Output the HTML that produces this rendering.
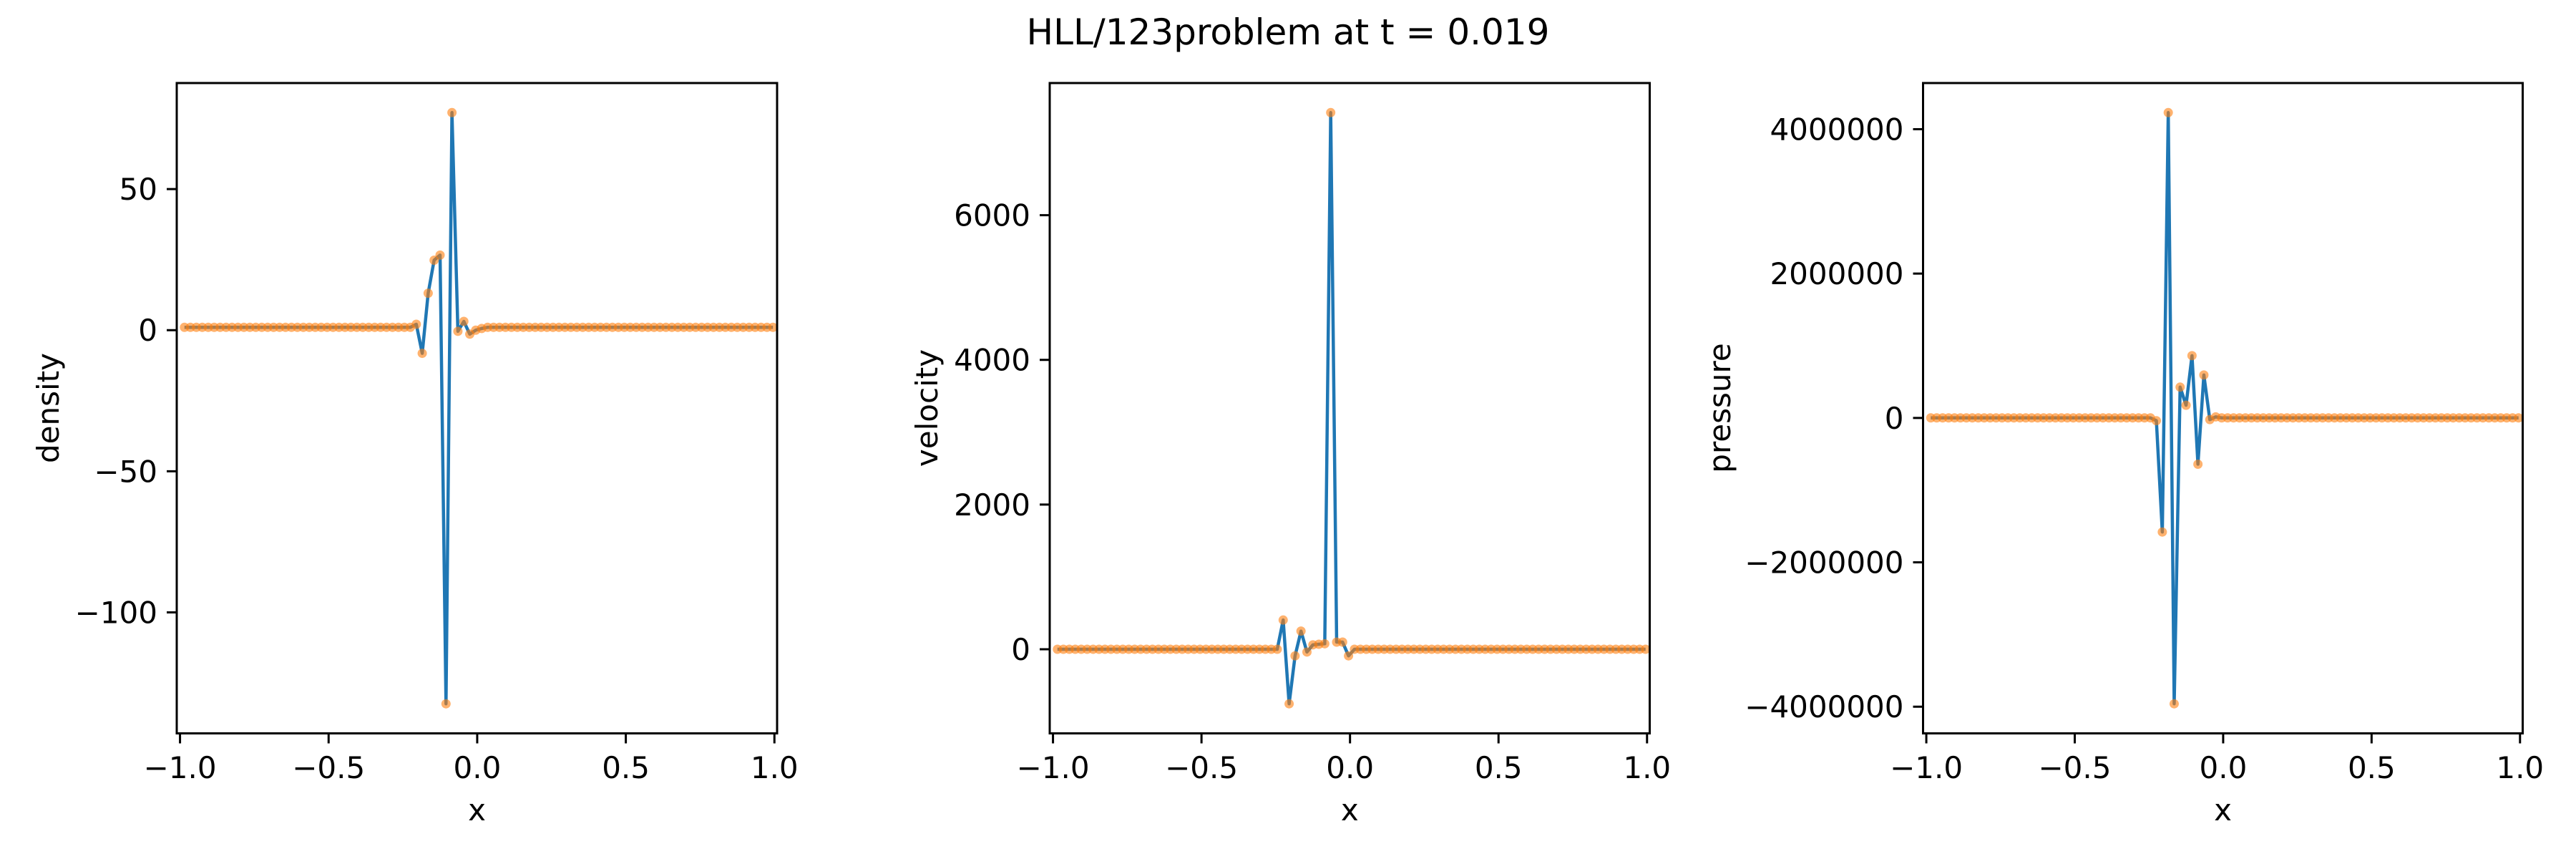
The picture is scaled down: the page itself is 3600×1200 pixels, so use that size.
<!DOCTYPE html>
<html><head><meta charset="utf-8">
<style>
html,body{margin:0;padding:0;background:#fff;}
svg{display:block;}
text{font-family:"DejaVu Sans","Liberation Sans",sans-serif;fill:#000;}
</style></head>
<body>
<svg id="fig" xmlns="http://www.w3.org/2000/svg" width="3600" height="1200" viewBox="0 0 3600 1200">
<rect width="3600" height="1200" fill="#fff"/>
<text x="1800" y="62" font-size="50" text-anchor="middle">HLL/123problem at t = 0.019</text>
</svg>
<script>
// Cell index -> x = -0.985 + 0.02*i, 100 cells
const cellCount = 100;
// sparse non-baseline values [index, value]
const densityBase = 1.0;
const densitySpikes = [[39,2.1],[40,-8.2],[41,13.1],[42,24.8],[43,26.6],[44,-132.4],[45,77.1],[46,-0.4],[47,3.1],[48,-1.4],[49,0.0],[50,0.6]];
const velocityBase = 0;
const velocitySpikes = [[38,404],[39,-754],[40,-91],[41,251],[42,-38],[43,61],[44,69],[45,76],[46,7418],[47,99],[48,99],[49,-91]];
const pressureBase = 1000;
const pressureSpikes = [[38,-38000],[39,-1580000],[40,4230000],[41,-3960000],[42,427000],[43,176000],[44,863000],[45,-641000],[46,595000],[47,-23000],[48,15000]];
const xTicks = [-1.0,-0.5,0.0,0.5,1.0];
const xTickLabels = ["\u22121.0","\u22120.5","0.0","0.5","1.0"];
const densityTicks = [-100,-50,0,50];
const densityTickLabels = ["\u2212100","\u221250","0","50"];
const velocityTicks = [0,2000,4000,6000];
const velocityTickLabels = ["0","2000","4000","6000"];
const pressureTicks = [-4000000,-2000000,0,2000000,4000000];
const pressureTickLabels = ["\u22124000000","\u22122000000","0","2000000","4000000"];

const NS = "http://www.w3.org/2000/svg";
const svg = document.getElementById('fig');
function mk(tag, attrs){const e=document.createElementNS(NS,tag);for(const k in attrs)e.setAttribute(k,attrs[k]);return e;}
function build(base, spikes){const v=[];for(let i=0;i<cellCount;i++)v.push(base);spikes.forEach(s=>{v[s[0]]=s[1];});return v;}
const FS=42;
function panel(name, left, right, values, ticks, tickLabels, ylabel, ylabelX){
  const top=116, bottom=1024.5;
  const xs=values.map((_,i)=>-0.985+0.02*i);
  const xmin=-1.011, xmax=1.009;
  const X=x=>left+(x-xmin)/(xmax-xmin)*(right-left);
  let mn=Math.min(...values), mx=Math.max(...values), r=mx-mn;
  const ymin=mn-0.05*r, ymax=mx+0.05*r;
  const Y=y=>bottom-(y-ymin)/(ymax-ymin)*(bottom-top);
  const g=mk('g',{});
  
  
  svg.appendChild(g);
  const pts=xs.map((x,i)=>X(x).toFixed(2)+','+Y(values[i]).toFixed(2)).join(' ');
  const line=mk('polyline',{points:pts,fill:'none',stroke:'#1f77b4','stroke-width':4.5,'stroke-linejoin':'round'});
  
  
  g.appendChild(line);
  xs.forEach((x,i)=>{
    const c=mk('circle',{cx:X(x).toFixed(2),cy:Y(values[i]).toFixed(2),r:6.5,fill:'#ff7f0e','fill-opacity':0.6});
    
    
    g.appendChild(c);
  });
  const fr=mk('rect',{x:left,y:top,width:right-left,height:bottom-top,fill:'none',stroke:'#000','stroke-width':3});
  
  
  g.appendChild(fr);
  xTicks.forEach((t,i)=>{
    const px=X(t);
    const tk=mk('line',{x1:px,x2:px,y1:bottom,y2:bottom+14,stroke:'#000','stroke-width':3});
    
    
    g.appendChild(tk);
    const tx=mk('text',{x:px,y:1087,'font-size':FS,'text-anchor':'middle'});
    tx.textContent=xTickLabels[i];
    
    
    g.appendChild(tx);
  });
  ticks.forEach((t,i)=>{
    const py=Y(t);
    const tk=mk('line',{x1:left-14,x2:left,y1:py,y2:py,stroke:'#000','stroke-width':3});
    
    
    g.appendChild(tk);
    const tx=mk('text',{x:left-27,y:py+15,'font-size':FS,'text-anchor':'end'});
    tx.textContent=tickLabels[i];
    
    
    g.appendChild(tx);
  });
  const xl=mk('text',{x:(left+right)/2,y:1146,'font-size':FS,'text-anchor':'middle'});
  xl.textContent='x';
  
  
  g.appendChild(xl);
  const yl=mk('text',{x:ylabelX,y:570,'font-size':FS,'text-anchor':'middle',transform:'rotate(-90 '+ylabelX+' 570)'});
  yl.textContent=ylabel;
  
  
  g.appendChild(yl);
}
panel('density',247,1086,build(densityBase,densitySpikes),densityTicks,densityTickLabels,'density',82);
panel('velocity',1467,2305.5,build(velocityBase,velocitySpikes),velocityTicks,velocityTickLabels,'velocity',1310);
panel('pressure',2687.5,3525.5,build(pressureBase,pressureSpikes),pressureTicks,pressureTickLabels,'pressure',2418);
</script>
</body></html>
